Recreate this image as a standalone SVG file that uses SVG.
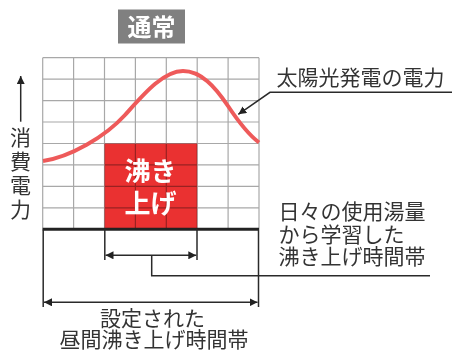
<svg xmlns="http://www.w3.org/2000/svg" width="452" height="351" viewBox="0 0 452 351">
<style>
  .t { font-family: "Noto Sans CJK JP", "Noto Sans", sans-serif; fill: #333; font-size: 21px; }
  .w { font-family: "Noto Sans CJK JP", "Noto Sans", sans-serif; fill: #fff; font-weight: bold; }
  .grid line { stroke: #a8a8a8; stroke-width: 1.2; }
  .grid { mix-blend-mode: multiply; }
  .ln { stroke: #2a2a2a; stroke-width: 1.5; fill: none; }
</style>
<defs>
  <marker id="ah" viewBox="0 0 10 10" refX="10" refY="5" markerWidth="8" markerHeight="8" markerUnits="userSpaceOnUse" orient="auto-start-reverse">
    <path d="M0,0 L10,5 L0,10 Z" fill="#222"/>
  </marker>
</defs>
<rect width="452" height="351" fill="#fff"/>

<g id="title">
  <rect x="118" y="9.5" width="67" height="34" fill="#808080"/>
  <text class="w" x="151.5" y="35.5" font-size="24" text-anchor="middle">通常</text>
</g>

<g id="boiling">
  <rect x="104.5" y="143.5" width="92.7" height="85.8" fill="#ea3131"/>
</g>

<g id="chart-grid" class="grid">
  <line x1="42.7" y1="57.7" x2="42.7" y2="229.3"/>
  <line x1="73.6" y1="57.7" x2="73.6" y2="229.3"/>
  <line x1="104.5" y1="57.7" x2="104.5" y2="229.3"/>
  <line x1="135.4" y1="57.7" x2="135.4" y2="229.3"/>
  <line x1="166.3" y1="57.7" x2="166.3" y2="229.3"/>
  <line x1="197.2" y1="57.7" x2="197.2" y2="229.3"/>
  <line x1="228.1" y1="57.7" x2="228.1" y2="229.3"/>
  <line x1="259" y1="57.7" x2="259" y2="229.3"/>
  <line x1="42.7" y1="57.7" x2="259" y2="57.7"/>
  <line x1="42.7" y1="79.1" x2="259" y2="79.1"/>
  <line x1="42.7" y1="100.6" x2="259" y2="100.6"/>
  <line x1="42.7" y1="122" x2="259" y2="122"/>
  <line x1="42.7" y1="143.5" x2="259" y2="143.5"/>
  <line x1="42.7" y1="164.9" x2="259" y2="164.9"/>
  <line x1="42.7" y1="186.4" x2="259" y2="186.4"/>
  <line x1="42.7" y1="207.8" x2="259" y2="207.8"/>
</g>

<g id="boiling-label">
  <text class="w" font-size="26" text-anchor="middle"><tspan x="150.5" y="180.5">沸き</tspan><tspan x="150.5" y="212.5">上げ</tspan></text>
</g>

<g id="solar-curve">
  <path d="M43,161 C70,157 105,137 125,115 C143,95 163,71 183,71 C201,71 215,86.5 228,106 C238,121 249,135 259,142.5" fill="none" stroke="#ee5a5a" stroke-width="4"/>
</g>

<g id="axis-label">
  <text class="t" x="20.5" y="127" font-size="20" writing-mode="vertical-rl" letter-spacing="2.7">消費電力</text>
</g>

<g id="solar-label">
  <text class="t" x="276.5" y="84.5">太陽光発電の電力</text>
</g>

<g id="learned-label">
  <text class="t"><tspan x="278.5" y="219">日々の使用湯量</tspan><tspan x="278.5" y="242">から学習した</tspan><tspan x="278.5" y="264">沸き上げ時間帯</tspan></text>
</g>

<g id="daytime-label">
  <text class="t" text-anchor="middle"><tspan x="152.5" y="325.5">設定された</tspan><tspan x="154" y="347">昼間沸き上げ時間帯</tspan></text>
</g>

<g id="connectors">
  <line x1="20.7" y1="121.7" x2="20.7" y2="76" class="ln" marker-end="url(#ah)"/>
  <polyline points="452,92.3 270,92.3 238.3,114.3" class="ln" stroke-width="1.3" marker-end="url(#ah)"/>
  <line x1="42.7" y1="229.3" x2="259" y2="229.3" stroke="#222" stroke-width="3"/>
  <line x1="43.2" y1="229.3" x2="43.2" y2="307" class="ln"/>
  <line x1="258.5" y1="229.3" x2="258.5" y2="307" class="ln"/>
  <line x1="104.8" y1="229.3" x2="104.8" y2="260" class="ln"/>
  <line x1="197" y1="229.3" x2="197" y2="260" class="ln"/>
  <line x1="105.5" y1="255.3" x2="196.3" y2="255.3" class="ln" marker-start="url(#ah)" marker-end="url(#ah)"/>
  <polyline points="151.7,255.3 151.7,275.7 430,275.7" class="ln"/>
  <line x1="44" y1="302.3" x2="257.5" y2="302.3" class="ln" marker-start="url(#ah)" marker-end="url(#ah)"/>
</g>
</svg>
